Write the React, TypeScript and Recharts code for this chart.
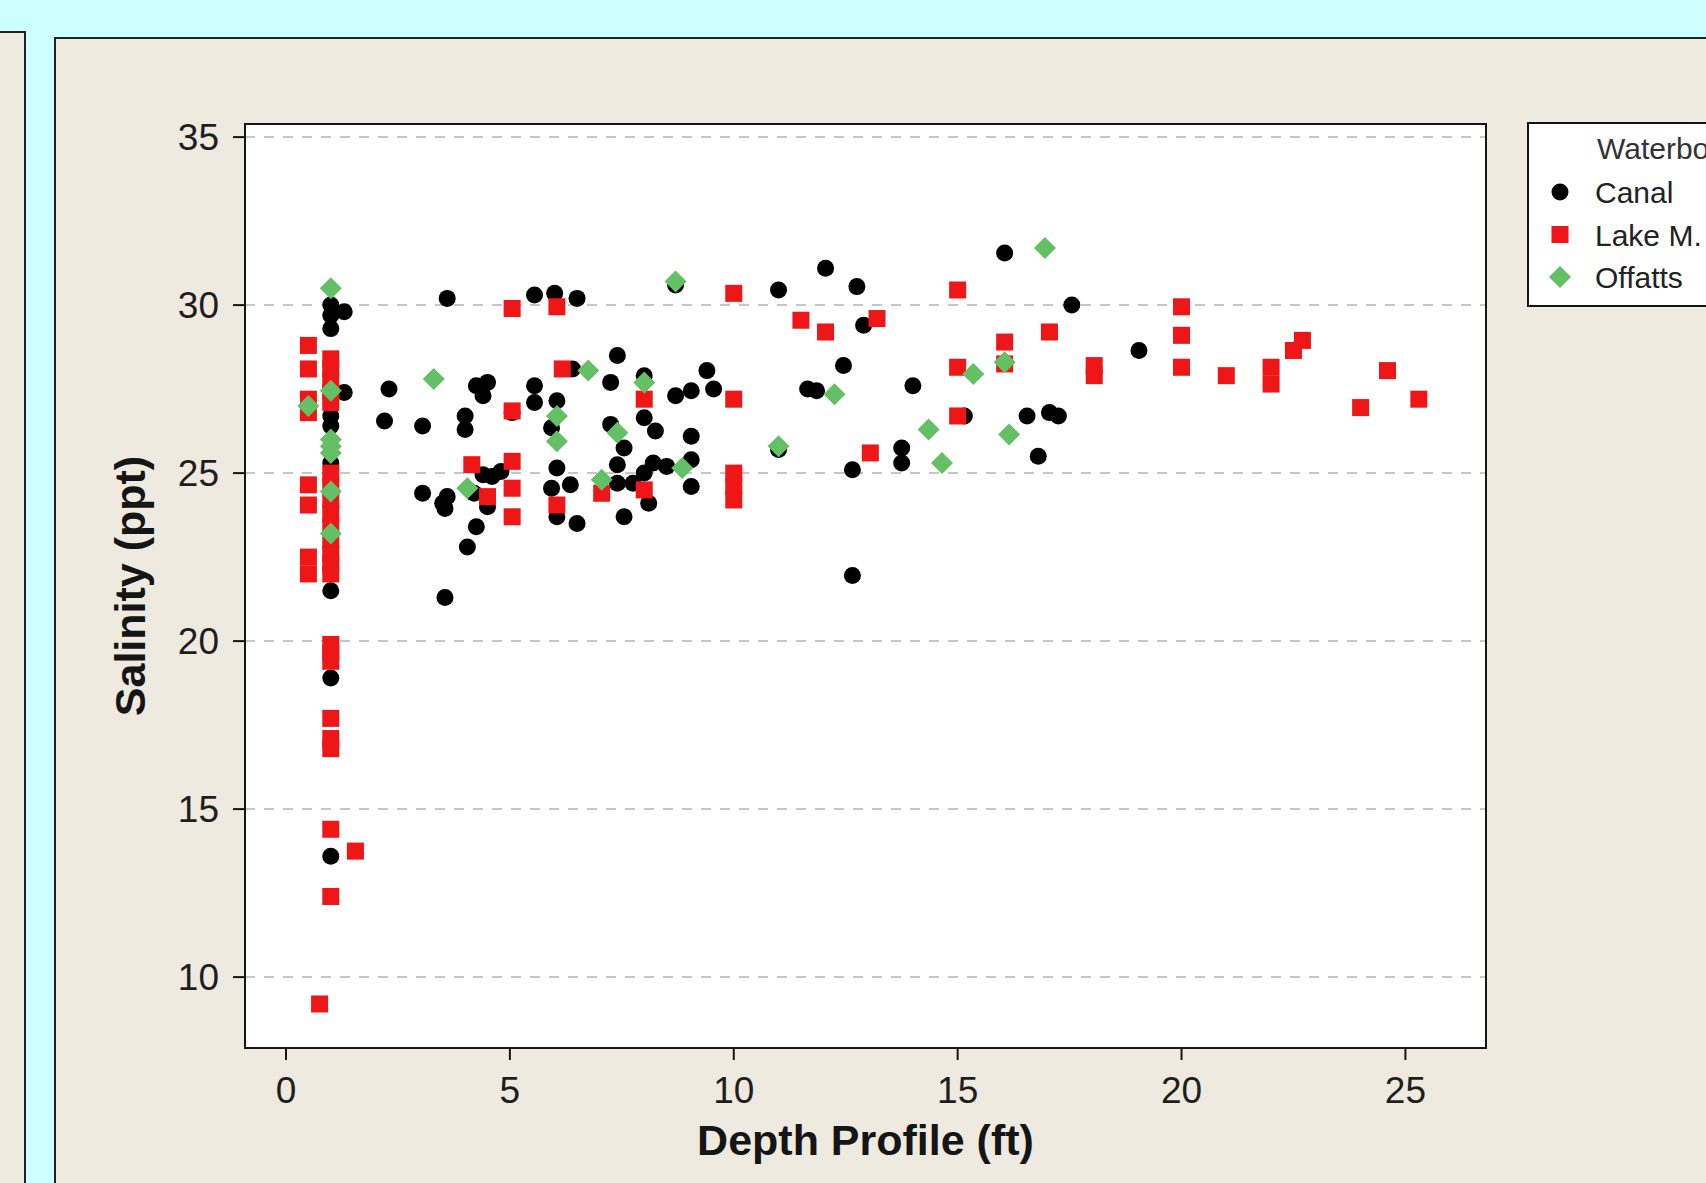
import { ScatterChart, Scatter, XAxis, YAxis, CartesianGrid, Label, ReferenceArea } from "recharts";

// depth (ft), salinity (ppt) pairs
const canal: [number, number][] = [
  [1, 30.0], [1, 29.7], [1, 29.3], [1.3, 29.8], [1.3, 27.4], [1, 26.7], [1, 26.4],
  [1, 25.3], [1, 21.5], [1, 18.9], [1, 13.6],
  [2.2, 26.55], [2.3, 27.5], [3.05, 26.4], [3.05, 24.4], [3.6, 30.2], [3.55, 21.3],
  [3.5, 24.1], [3.6, 24.3], [3.55, 23.95], [4.0, 26.7], [4.0, 26.3], [4.05, 22.8],
  [4.25, 23.4], [4.25, 27.6], [4.4, 27.3], [4.5, 27.7], [4.4, 24.95], [4.6, 24.9],
  [4.8, 25.05], [4.5, 24.0], [4.2, 24.4], [5.05, 26.8],
  [5.55, 30.3], [5.55, 27.6], [5.55, 27.1], [6.0, 30.35], [6.05, 27.15], [5.93, 26.35],
  [6.05, 25.15], [5.93, 24.55], [6.35, 24.65], [6.05, 23.7], [6.5, 23.5], [6.4, 28.1],
  [6.5, 30.2], [7.4, 28.5], [7.25, 27.7], [7.25, 26.45], [7.55, 25.75], [7.4, 25.25],
  [7.4, 24.7], [7.55, 23.7], [7.75, 24.7], [8.0, 25.0], [8.2, 25.3], [8.5, 25.2],
  [8.1, 24.1], [8.0, 27.9], [8.0, 26.65], [8.25, 26.25],
  [8.7, 30.6], [8.7, 27.3], [9.05, 27.45], [9.4, 28.05], [9.55, 27.5], [9.05, 26.1],
  [9.05, 25.4], [9.05, 24.6],
  [11.0, 30.45], [11.0, 25.7], [12.05, 31.1], [12.75, 30.55], [11.65, 27.5], [11.85, 27.45],
  [12.45, 28.2], [12.9, 29.4], [12.65, 25.1], [12.65, 21.95], [13.75, 25.75], [13.75, 25.3],
  [14.0, 27.6], [15.15, 26.7], [16.05, 31.55], [16.55, 26.7], [17.05, 26.8], [17.25, 26.7],
  [16.8, 25.5], [17.55, 30.0], [19.05, 28.65],
];

const lakeM: [number, number][] = [
  [0.5, 28.8], [0.5, 28.1], [0.5, 27.2], [0.5, 26.8], [0.5, 24.65], [0.5, 24.05],
  [0.5, 22.5], [0.5, 22.0],
  [1, 28.4], [1, 28.1], [1, 27.75], [1, 27.4], [1, 27.1],
  [1, 25.0], [1, 24.6], [1, 24.2], [1, 23.8], [1, 23.4], [1, 23.0], [1, 22.6], [1, 22.3], [1, 22.0],
  [1, 19.9], [1, 19.65], [1, 19.4], [1, 17.7], [1, 17.1], [1, 16.8], [1, 14.4],
  [1.55, 13.75], [1, 12.4], [0.75, 9.2],
  [5.05, 29.9], [6.05, 29.95], [6.17, 28.1], [5.05, 26.85], [4.15, 25.25], [5.05, 25.35],
  [5.05, 24.55], [5.05, 23.7], [4.5, 24.3], [6.05, 24.05], [7.05, 24.4], [8.0, 27.2],
  [8.0, 24.5], [10.0, 30.35], [10.0, 27.2], [10.0, 25.0], [10.0, 24.6], [10.0, 24.2],
  [11.5, 29.55], [12.05, 29.2], [13.2, 29.6], [13.05, 25.6], [15.0, 30.45], [15.0, 28.15],
  [15.0, 26.7], [16.05, 28.9], [16.05, 28.25], [17.05, 29.2], [18.05, 28.2], [18.05, 27.9],
  [20.0, 29.95], [20.0, 29.1], [20.0, 28.15], [21.0, 27.9], [22.0, 28.15], [22.0, 27.65],
  [22.5, 28.65], [22.7, 28.95], [24.0, 26.95], [24.6, 28.05], [25.3, 27.2],
];

const offatts: [number, number][] = [
  [1, 30.5], [0.5, 27.0], [1, 27.45], [1, 26.0], [1, 25.8], [1, 25.6], [1, 24.45],
  [1, 23.2], [3.3, 27.8], [4.05, 24.55], [6.05, 26.7], [6.05, 25.95], [6.75, 28.05],
  [7.4, 26.2], [7.05, 24.8], [8.0, 27.7], [8.7, 30.7], [8.85, 25.15], [11.0, 25.8],
  [12.25, 27.35], [14.35, 26.3], [14.65, 25.3], [15.35, 27.95], [16.05, 28.3],
  [16.15, 26.15], [16.95, 31.7],
];

const depthTicks = [0, 5, 10, 15, 20, 25];
const salinityTicks = [10, 15, 20, 25, 30, 35];
const depthDomain: [number, number] = [-0.916, 26.8];
const salinityDomain: [number, number] = [7.89, 35.39];

const RED = "#ee1616";
const GREEN = "#64c064";
const BEIGE = "#eeeae0";
const FONT = "'Liberation Sans', Arial, sans-serif";

const toPoints = (pairs: [number, number][]) =>
  pairs.map(([depth, salinity]) => ({ depth, salinity }));

const CircleMark = ({ cx, cy }: any) => <circle cx={cx} cy={cy} r={8.5} fill="#000" />;
const SquareMark = ({ cx, cy }: any) => (
  <rect x={cx - 8.5} y={cy - 8.5} width={17} height={17} fill={RED} />
);
const DiamondMark = ({ cx, cy }: any) => (
  <polygon
    points={`${cx},${cy - 11} ${cx + 11},${cy} ${cx},${cy + 11} ${cx - 11},${cy}`}
    fill={GREEN}
  />
);

const legendItems = [
  { name: "Canal", Mark: CircleMark },
  { name: "Lake M.", Mark: SquareMark },
  { name: "Offatts", Mark: DiamondMark },
];

const axisLine = { stroke: "#151515", strokeWidth: 2 };
const tickStyle = { fill: "#1e1e1e", fontSize: 37, fontFamily: FONT };
const titleStyle = { fill: "#151515", fontSize: 43, fontWeight: 700, fontFamily: FONT };

export default function App() {
  return (
    <div
      style={{
        position: "absolute",
        left: 0,
        top: 0,
        width: 1706,
        height: 1183,
        overflow: "hidden",
        background: "#ccffff",
      }}
    >
      <div
        style={{
          position: "absolute",
          left: -4,
          top: 31,
          width: 26,
          height: 1300,
          background: BEIGE,
          border: "2px solid #222",
        }}
      />
      <div
        style={{
          position: "absolute",
          left: 54,
          top: 37,
          width: 1800,
          height: 1300,
          background: BEIGE,
          border: "2px solid #222",
        }}
      />
      <div style={{ position: "absolute", left: 0, top: 0 }}>
        <ScatterChart
          width={1706}
          height={1183}
          margin={{ top: 124, right: 220, bottom: 0, left: 0 }}
        >
          <CartesianGrid
            vertical={false}
            fill="#ffffff"
            stroke="#b4b4b4"
            strokeWidth={1.5}
            strokeDasharray="10 9"
          />
          <XAxis
            type="number"
            dataKey="depth"
            domain={depthDomain}
            ticks={depthTicks}
            allowDataOverflow
            interval={0}
            height={135}
            tickSize={12}
            tickMargin={17}
            axisLine={axisLine}
            tickLine={axisLine}
            tick={tickStyle}
          >
            <Label
              content={({ viewBox }: any) => (
                <text
                  x={viewBox.x + viewBox.width / 2}
                  y={viewBox.y + 107}
                  textAnchor="middle"
                  style={titleStyle}
                >
                  Depth Profile (ft)
                </text>
              )}
            />
          </XAxis>
          <YAxis
            type="number"
            dataKey="salinity"
            domain={salinityDomain}
            ticks={salinityTicks}
            allowDataOverflow
            interval={0}
            width={245}
            tickSize={12}
            tickMargin={14}
            axisLine={axisLine}
            tickLine={axisLine}
            tick={tickStyle}
          >
            <Label
              content={({ viewBox }: any) => {
                const cy = viewBox.y + viewBox.height / 2;
                return (
                  <text
                    x={145}
                    y={cy}
                    textAnchor="middle"
                    transform={`rotate(-90 145 ${cy})`}
                    style={titleStyle}
                  >
                    Salinity (ppt)
                  </text>
                );
              }}
            />
          </YAxis>
          {/* frame around the data region */}
          <ReferenceArea
            x1={depthDomain[0]}
            x2={depthDomain[1]}
            y1={salinityDomain[0]}
            y2={salinityDomain[1]}
            fill="none"
            fillOpacity={0}
            stroke="#151515"
            strokeWidth={2}
            ifOverflow="visible"
          />
          <Scatter name="Canal" data={toPoints(canal)} fill="#000" shape={CircleMark} isAnimationActive={false} />
          <Scatter name="Lake M." data={toPoints(lakeM)} fill={RED} shape={SquareMark} isAnimationActive={false} />
          <Scatter name="Offatts" data={toPoints(offatts)} fill={GREEN} shape={DiamondMark} isAnimationActive={false} />
        </ScatterChart>
      </div>
      <svg
        style={{ position: "absolute", left: 1527, top: 122 }}
        width={260}
        height={186}
      >
        <rect x={1} y={1} width={300} height={183} fill="#fff" stroke="#151515" strokeWidth={2} />
        <text x={70} y={37} style={{ fontSize: 30, fontFamily: FONT, fill: "#333" }}>
          Waterbody
        </text>
        {legendItems.map(({ name, Mark }, i) => (
          <g key={name}>
            <Mark cx={33} cy={70 + i * 42.5} />
            <text
              x={68}
              y={81 + i * 42.5}
              style={{ fontSize: 30, fontFamily: FONT, fill: "#222" }}
            >
              {name}
            </text>
          </g>
        ))}
      </svg>
    </div>
  );
}
